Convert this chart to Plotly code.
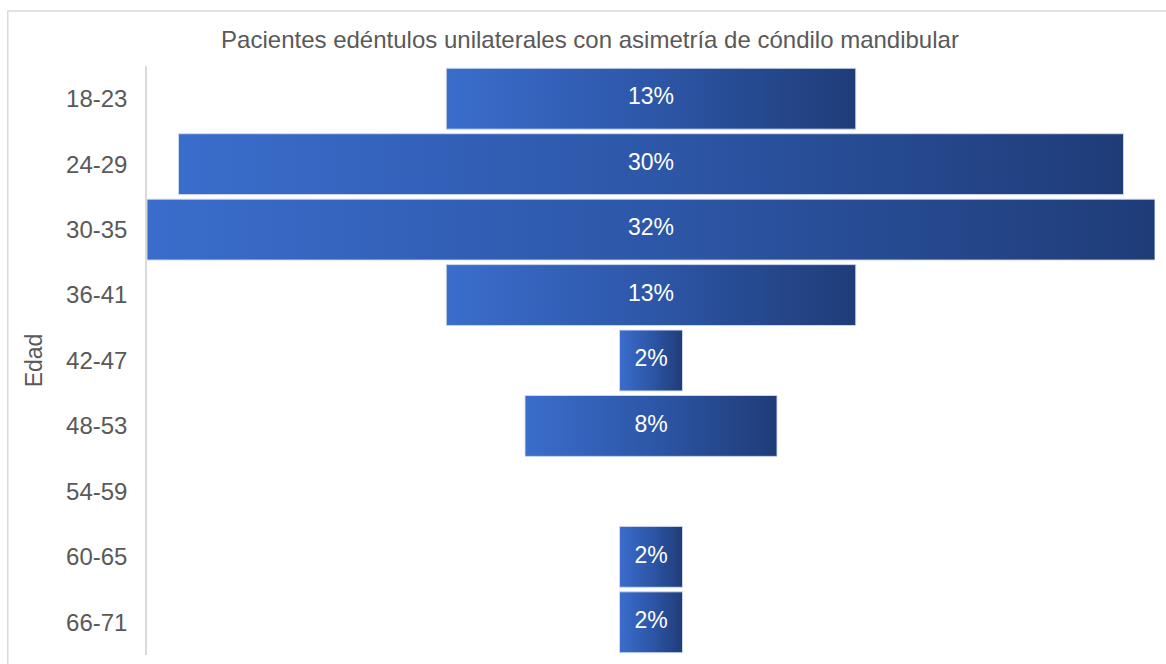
import plotly.graph_objects as go

# Age groups and share of patients (%)
age_groups = ["18-23", "24-29", "30-35", "36-41", "42-47", "48-53", "54-59", "60-65", "66-71"]
percentages = [13, 30, 32, 13, 2, 8, 0, 2, 2]

title_text = "Pacientes edéntulos unilaterales con asimetría de cóndilo mandibular"
axis_title = "Edad"

FONT = "Arial, Liberation Sans, sans-serif"
GRAY = "#595959"
BAR_HALF = 0.465  # half of the bar thickness, in row units

fig = go.Figure()

# Centered funnel bars, each filled with a left-to-right blue gradient
for i, (grp, val) in enumerate(zip(age_groups, percentages)):
    if val <= 0:
        continue
    half = val / 2
    fig.add_trace(go.Scatter(
        x=[-half, half, half, -half, -half],
        y=[i - BAR_HALF, i - BAR_HALF, i + BAR_HALF, i + BAR_HALF, i - BAR_HALF],
        mode="lines",
        fill="toself",
        fillgradient=dict(type="horizontal",
                          colorscale=[[0, "#3a6dcc"], [0.5, "#2d57a8"], [1, "#1f3c78"]]),
        line=dict(color="rgba(210,220,240,0.9)", width=1),
        hoverinfo="skip",
        showlegend=False,
    ))

# Value labels in the middle of each bar
lbl_y = [i for i, v in enumerate(percentages) if v > 0]
lbl_t = [f"{v}%" for v in percentages if v > 0]
fig.add_trace(go.Scatter(
    x=[0] * len(lbl_y),
    y=lbl_y,
    mode="text",
    text=lbl_t,
    textposition="middle center",
    textfont=dict(family=FONT, size=23, color="white"),
    hoverinfo="skip",
    showlegend=False,
))

max_half = max(percentages) / 2

fig.update_layout(
    width=1166,
    height=664,
    margin=dict(l=147, r=11, t=66, b=9),
    paper_bgcolor="white",
    plot_bgcolor="white",
    font=dict(family=FONT, color=GRAY),
    title=dict(text=title_text, x=590 / 1166, xanchor="center",
               y=1 - 40 / 664, yanchor="middle",
               font=dict(family=FONT, size=24, color=GRAY)),
    xaxis=dict(range=[-max_half, max_half], visible=False, fixedrange=True),
    yaxis=dict(
        range=[len(age_groups) - 0.5, -0.5],
        tickmode="array",
        tickvals=list(range(len(age_groups))),
        ticktext=age_groups,
        tickfont=dict(family=FONT, size=24, color=GRAY),
        ticks="",
        ticklabelstandoff=13,
        showgrid=False,
        zeroline=False,
        showline=True,
        linecolor="#d9d9d9",
        linewidth=1.5,
        title=dict(text=axis_title, font=dict(family=FONT, size=23, color=GRAY), standoff=17),
    ),
    shapes=[
        # Chart area frame
        dict(type="rect", xref="paper", yref="paper",
             x0=-139 / 1006, x1=1.2, y0=-0.2, y1=1 + 55 / 589,
             line=dict(color="#d9d9d9", width=1.5), fillcolor="rgba(0,0,0,0)", layer="below"),
    ],
)

fig.write_html("out.html")
